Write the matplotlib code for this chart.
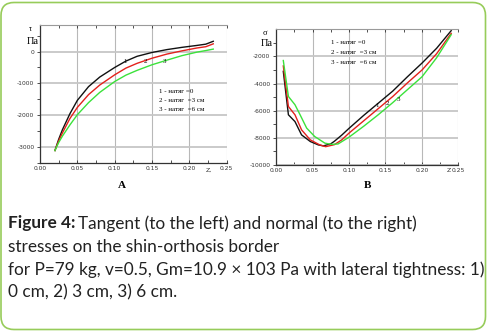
import numpy as np
import matplotlib
matplotlib.use("Agg")
import matplotlib.pyplot as plt
from matplotlib.patches import FancyBboxPatch
from matplotlib.transforms import IdentityTransform

plt.rcParams["axes.unicode_minus"] = False

# left panel: tangent stress tau (Pa) vs Z
z_tau = [0.02, 0.025, 0.03, 0.04, 0.05, 0.065, 0.08, 0.10, 0.115, 0.13, 0.15, 0.17, 0.19, 0.21, 0.222, 0.232]
tau1 = [-3100, -2750, -2450, -1950, -1530, -1100, -800, -500, -300, -150, -30, 60, 130, 190, 230, 320]
tau2 = [-3100, -2800, -2550, -2100, -1750, -1350, -1050, -730, -520, -370, -210, -80, 20, 110, 150, 240]
tau3 = [-3100, -2850, -2650, -2300, -1980, -1600, -1280, -940, -740, -590, -415, -270, -130, -20, 30, 75]

# right panel: normal stress sigma (Pa) vs Z
z_s1 = [0.01, 0.017, 0.026, 0.035, 0.047, 0.058, 0.065, 0.075, 0.08, 0.09, 0.10, 0.12, 0.14, 0.16, 0.18, 0.20, 0.22, 0.24]
sig1 = [-3100, -6300, -6800, -7780, -8270, -8520, -8590, -8440, -8250, -7800, -7300, -6350, -5450, -4550, -3500, -2490, -1400, -100]
z_s2 = [0.01, 0.017, 0.026, 0.035, 0.047, 0.06, 0.068, 0.08, 0.09, 0.10, 0.12, 0.14, 0.16, 0.18, 0.20, 0.22, 0.24]
sig2 = [-2700, -5690, -6300, -7410, -8150, -8520, -8650, -8500, -8150, -7650, -6750, -5850, -4950, -3950, -3000, -1800, -300]
z_s3 = [0.01, 0.017, 0.026, 0.033, 0.042, 0.053, 0.067, 0.076, 0.085, 0.10, 0.12, 0.14, 0.16, 0.18, 0.20, 0.22, 0.24]
sig3 = [-2300, -4950, -5560, -6300, -7280, -7900, -8390, -8480, -8450, -7950, -7150, -6300, -5400, -4450, -3500, -2100, -400]

legend_lines = ["1 - натяг =0", "2 - натяг  =3 см", "3 - натяг  =6 см"]
colors = ["#111111", "#e3211c", "#3be23b"]

W, H = 487, 332
fig = plt.figure(figsize=(W / 100, H / 100), dpi=100)

def px_axes(x0, y0, x1, y1):
    return fig.add_axes([x0 / W, 1 - y1 / H, (x1 - x0) / W, (y1 - y0) / H])

def style(ax):
    ax.spines["right"].set_visible(False)
    ax.spines["top"].set_color("#9a9a9a")
    ax.spines["top"].set_linewidth(0.8)
    for s in ("left", "bottom"):
        ax.spines[s].set_color("#333333")
        ax.spines[s].set_linewidth(0.9)
    ax.tick_params(axis="both", which="both", labelsize=4.3, colors="#333333",
                   length=2, width=0.6, pad=2)
    ax.tick_params(axis="x", which="both", direction="in", top=True)
    ax.tick_params(axis="y", which="both", direction="out")
    ax.minorticks_on()
    ax.grid(axis="y", which="major", color="#c6c6c6", linewidth=1.3)
    ax.grid(axis="x", which="major", color="#b8b8b8", linewidth=0.8)
    ax.set_axisbelow(True)

# left panel
ax1 = px_axes(40, 25, 226.7, 163.3)
style(ax1)
for y, c in zip([tau1, tau2, tau3], colors):
    ax1.plot(z_tau, y, color=c, lw=1.0)
ax1.set_xlim(0, 0.25)
ax1.set_ylim(-3500, 830)
ax1.set_xticks([0, 0.05, 0.10, 0.15, 0.20, 0.25])
ax1.set_xticklabels(["0.00", "0.05", "0.10", "0.15", "0.20", "0.25"])
ax1.set_xticks(np.arange(0.025, 0.25, 0.05), minor=True)
ax1.set_yticks([-3000, -2000, -1000, 0])
ax1.set_yticks(np.arange(-3500, 800, 500), minor=True)
ax1.text(0.114, -310, "1", fontsize=5, family="Liberation Serif", ha="center", va="center")
ax1.text(0.141, -310, "2", fontsize=5, family="Liberation Serif", ha="center", va="center")
ax1.text(0.166, -310, "3", fontsize=5, family="Liberation Serif", ha="center", va="center")
for i, t in enumerate(legend_lines):
    ax1.text(0.159, -1260 - 280 * i, t, fontsize=5, family="Liberation Serif", va="center")
ax1.text(0.226, -3640, "Z,", fontsize=4.5, color="#333333", ha="center", va="top")

# right panel
ax2 = px_axes(276, 29.3, 458.5, 165)
style(ax2)
for x, y, c in zip([z_s1, z_s2, z_s3], [sig1, sig2, sig3], colors):
    ax2.plot(x, y, color=c, lw=1.0)
ax2.set_xlim(0, 0.25)
ax2.set_ylim(-10000, 0)
ax2.set_xticks([0, 0.05, 0.10, 0.15, 0.20, 0.25])
ax2.set_xticklabels(["0.00", "0.05", "0.10", "0.15", "0.20", "0.25"])
ax2.set_xticks(np.arange(0.025, 0.25, 0.05), minor=True)
ax2.set_yticks([-10000, -8000, -6000, -4000, -2000])
ax2.set_yticks(np.arange(-10000, 0, 1000), minor=True)
ax2.text(0.138, -5640, "1", fontsize=5, family="Liberation Serif", ha="center", va="center")
ax2.text(0.152, -5440, "2", fontsize=5, family="Liberation Serif", ha="center", va="center")
ax2.text(0.168, -5140, "3", fontsize=5, family="Liberation Serif", ha="center", va="center")
for i, t in enumerate(legend_lines):
    ax2.text(0.076, -990 - 730 * i, t, fontsize=5, family="Liberation Serif", va="center")
ax2.text(0.237, -10200, "Z", fontsize=4.5, color="#333333", ha="center", va="top")

# axis titles at top of y axes
fig.text(30 / W, 1 - 29 / H, "τ", fontsize=5.5, family="Liberation Serif", ha="center", va="center")
fig.text(33 / W, 1 - 41 / H, "Па", fontsize=7.5, family="Liberation Serif", ha="center", va="center")
fig.text(265 / W, 1 - 33 / H, "σ", fontsize=6, family="Liberation Serif", ha="center", va="center")
fig.text(267 / W, 1 - 43 / H, "Па", fontsize=7.5, family="Liberation Serif", ha="center", va="center")

fig.text(121.7 / W, 1 - 185 / H, "A", fontsize=8, family="Liberation Serif", weight="bold",
         ha="center", va="center")
fig.text(367 / W, 1 - 185 / H, "B", fontsize=8, family="Liberation Serif", weight="bold",
         ha="center", va="center")

# caption
cap_font = "Lato"
cap_size = 12.4
renderer = fig.canvas.get_renderer()
bold = fig.text(8 / W, 1 - 223.3 / H, "Figure 4:", fontsize=cap_size, family=cap_font,
                weight="bold", color="#222222", va="center")
bb = bold.get_window_extent(renderer)
fig.text(bb.x1 / W + 3 / W, 1 - 223.3 / H, "Tangent (to the left) and normal (to the right)",
         fontsize=cap_size, family=cap_font, color="#222222", va="center")
rest = ["stresses on the shin-orthosis border",
        "for P=79 kg, v=0.5, Gm=10.9 × 103 Pa with lateral tightness: 1)",
        "0 cm, 2) 3 cm, 3) 6 cm."]
for i, t in enumerate(rest):
    fig.text(8 / W, 1 - (246.7 + 23.0 * i) / H, t, fontsize=cap_size, family=cap_font,
             color="#222222", va="center")

# rounded green frame
frame = FancyBboxPatch((1, H - 329.5), W - 2.5, 327, boxstyle="round,pad=0,rounding_size=13",
                       transform=IdentityTransform(), fill=False, edgecolor="#97cc5a",
                       linewidth=1.2)
fig.patches.append(frame)

fig.savefig("out.png", dpi=100)
